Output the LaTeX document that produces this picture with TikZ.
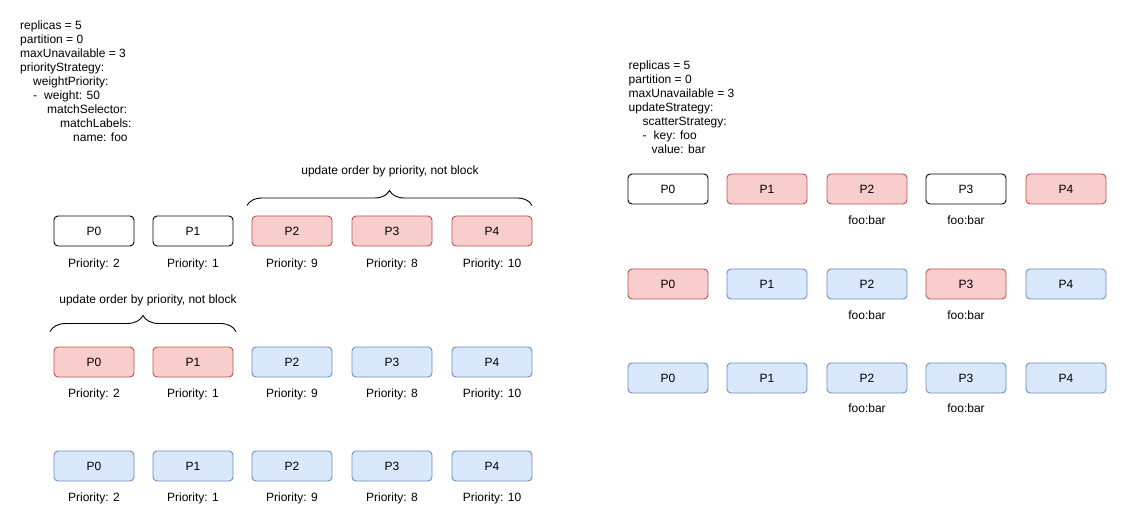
\documentclass[tikz,border=0pt]{standalone}
\usepackage{fontspec}
\setmainfont{Liberation Sans}
\usetikzlibrary{decorations.pathreplacing}
\definecolor{redfill}{HTML}{F8CECC}
\definecolor{redline}{HTML}{B85450}
\definecolor{bluefill}{HTML}{DAE8FC}
\definecolor{blueline}{HTML}{6C8EBF}
\tikzset{
  txt/.style={font=\fontsize{12}{14}\selectfont, inner sep=0pt},
  block/.style={txt, align=left, anchor=north west},
  pod/.style={txt, draw, rounded corners=4pt, minimum width=80pt, minimum height=30pt, line width=0.9pt},
  podw/.style={pod, draw=black, fill=white},
  podr/.style={pod, draw=redline, fill=redfill},
  podb/.style={pod, draw=blueline, fill=bluefill},
  lbl/.style={txt},
  bracestyle/.style={draw=black, line width=0.9pt, decorate, decoration={brace, amplitude=#1, aspect=0.5}},
}
\begin{document}
\begin{tikzpicture}[x=1pt, y=-1pt]
\useasboundingbox (0,0) rectangle (1126,518);
% left config
\node[block] (cfgL) at (20,20.5) {replicas = 5\\partition = 0\\maxUnavailable = 3\\priorityStrategy:\\\hspace*{13pt}weightPriority:\\\hspace*{13pt}-\hspace*{7pt}weight: 50\\\hspace*{27pt}matchSelector:\\\hspace*{40pt}matchLabels:\\\hspace*{53pt}name: foo};
% right config
\node[block] (cfgR) at (628.5,60.5) {replicas = 5\\partition = 0\\maxUnavailable = 3\\updateStrategy:\\\hspace*{14pt}scatterStrategy:\\\hspace*{14pt}-\hspace*{7pt}key: foo\\\hspace*{23pt}value: bar};

% left rows
\foreach \i/\x/\p in {0/94/2, 1/193/1, 2/292/9, 3/392/8, 4/492/10}{
  \node[lbl] (la\i) at (\x,264) {Priority: \p};
  \node[lbl] (lb\i) at (\x,394) {Priority: \p};
  \node[lbl] (lc\i) at (\x,498) {Priority: \p};
}
\node[podw] (a0) at (94,231) {P0};
\node[podw] (a1) at (193,231) {P1};
\node[podr] (a2) at (292,231) {P2};
\node[podr] (a3) at (392,231) {P3};
\node[podr] (a4) at (492,231) {P4};

\node[podr] (b0) at (94,362) {P0};
\node[podr] (b1) at (193,362) {P1};
\node[podb] (b2) at (292,362) {P2};
\node[podb] (b3) at (392,362) {P3};
\node[podb] (b4) at (492,362) {P4};

\node[podb] (c0) at (94,466) {P0};
\node[podb] (c1) at (193,466) {P1};
\node[podb] (c2) at (292,466) {P2};
\node[podb] (c3) at (392,466) {P3};
\node[podb] (c4) at (492,466) {P4};

% braces
\coordinate (br1a) at (247,205.5);
\coordinate (br1b) at (532,205.5);
\draw[bracestyle=15pt] (br1a) -- (br1b);
\node[lbl] (t1) at (390,171) {update order by priority, not block};

\coordinate (br2a) at (50,331.5);
\coordinate (br2b) at (236,331.5);
\draw[bracestyle=16pt] (br2a) -- (br2b);
\node[lbl] (t2) at (148,300) {update order by priority, not block};

% right rows
\node[podw] (d0) at (668,189) {P0};
\node[podr] (d1) at (767,189) {P1};
\node[podr] (d2) at (867,189) {P2};
\node[podw] (d3) at (966,189) {P3};
\node[podr] (d4) at (1066,189) {P4};
\node[lbl] (fd2) at (867,220) {foo:bar};
\node[lbl] (fd3) at (966,220) {foo:bar};

\node[podr] (e0) at (668,284) {P0};
\node[podb] (e1) at (767,284) {P1};
\node[podb] (e2) at (867,284) {P2};
\node[podr] (e3) at (966,284) {P3};
\node[podb] (e4) at (1066,284) {P4};
\node[lbl] (fe2) at (867,315) {foo:bar};
\node[lbl] (fe3) at (966,315) {foo:bar};

\node[podb] (g0) at (668,378) {P0};
\node[podb] (g1) at (767,378) {P1};
\node[podb] (g2) at (867,378) {P2};
\node[podb] (g3) at (966,378) {P3};
\node[podb] (g4) at (1066,378) {P4};
\node[lbl] (fg2) at (867,408) {foo:bar};
\node[lbl] (fg3) at (966,408) {foo:bar};
\end{tikzpicture}
\end{document}
